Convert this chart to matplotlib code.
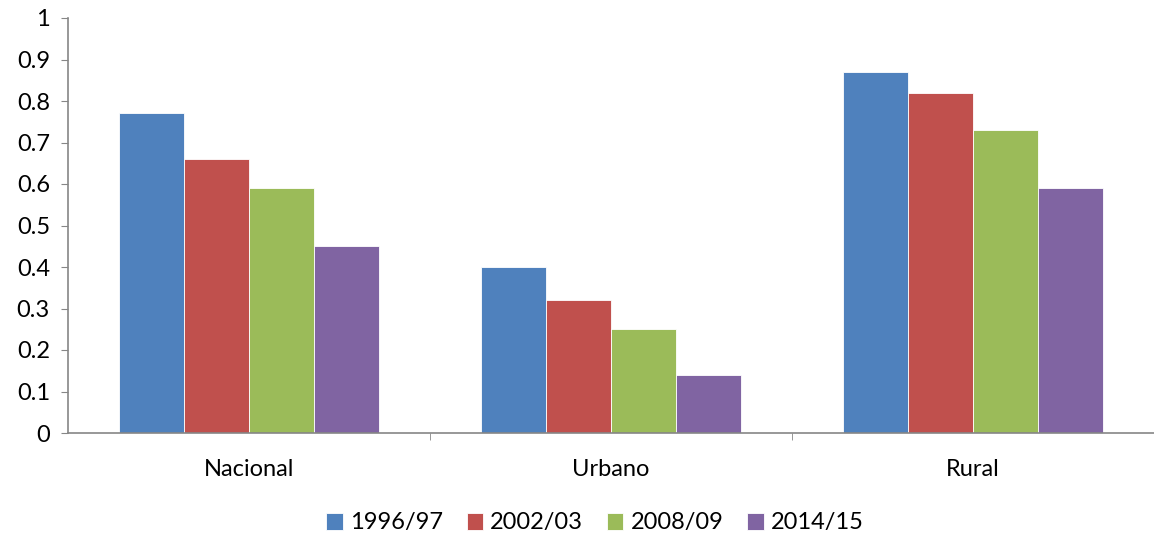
import numpy as np
import matplotlib.pyplot as plt

plt.rcParams['font.family'] = ['Lato', 'DejaVu Sans']

categories = ['Nacional', 'Urbano', 'Rural']
series = ['1996/97', '2002/03', '2008/09', '2014/15']
values = [
    [0.77, 0.40, 0.87],
    [0.66, 0.32, 0.82],
    [0.59, 0.25, 0.73],
    [0.45, 0.14, 0.59],
]
colors = ['#4f81bd', '#c0504d', '#9bbb59', '#8064a2']

fig = plt.figure(figsize=(11.54, 5.37), dpi=100)
ax = fig.add_axes([68 / 1154, 1 - 433 / 537, 1 - 68 / 1154, (433 - 18) / 537])

x = np.arange(len(categories))
width = 0.18
for i, (name, vals, col) in enumerate(zip(series, values, colors)):
    ax.bar(x + (i - 1.5) * width, vals, width, color=col, label=name,
           edgecolor='white', linewidth=0.6)

ax.set_xlim(-0.5, 2.5)
ax.set_ylim(0, 1)
ax.set_yticks(np.arange(0, 1.01, 0.1))
ax.set_yticklabels(['0'] + ['%.1f' % v for v in np.arange(0.1, 0.95, 0.1)] + ['1'])
ax.set_xticks(x)
ax.set_xticklabels(categories)
ax.set_xticks([0.5, 1.5, 2.5], minor=True)

for s in ['top', 'right']:
    ax.spines[s].set_visible(False)
for s in ['left', 'bottom']:
    ax.spines[s].set_color('#868686')
    ax.spines[s].set_linewidth(1.2)

ax.tick_params(axis='y', length=5, color='#868686', labelsize=17, pad=8)
ax.tick_params(axis='x', which='major', length=0, labelsize=17, pad=19)
ax.tick_params(axis='x', which='minor', length=5, color='#868686')

fig.legend(loc='center', bbox_to_anchor=(595 / 1154, 1 - 523 / 537), ncol=4,
           frameon=False, fontsize=17, handlelength=0.7, handleheight=0.7,
           handletextpad=0.3, columnspacing=1.0)

fig.savefig('out.png', dpi=100)
